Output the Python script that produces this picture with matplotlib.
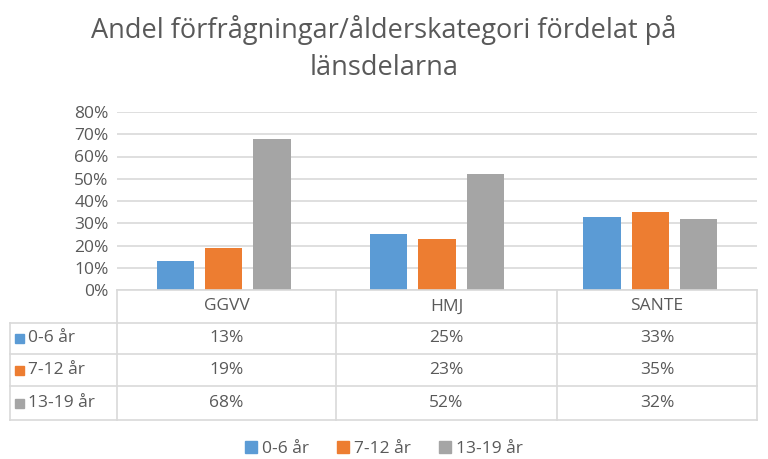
import matplotlib
matplotlib.use('agg')
import matplotlib.pyplot as plt
import numpy as np
from matplotlib.lines import Line2D
from matplotlib.patches import Rectangle

# data
categories = ['GGVV', 'HMJ', 'SANTE']
series = ['0-6 år', '7-12 år', '13-19 år']
v_0_6 = [0.13, 0.25, 0.33]
v_7_12 = [0.19, 0.23, 0.35]
v_13_19 = [0.68, 0.52, 0.32]
colors = ['#5B9BD5', '#ED7D31', '#A5A5A5']
yticks = [0, 0.1, 0.2, 0.3, 0.4, 0.5, 0.6, 0.7, 0.8]

plt.rcParams['font.family'] = ['Open Sans', 'DejaVu Sans']
txt = '#595959'
grid = '#D9D9D9'
fs = 12.5

W, H = 768, 459
fig = plt.figure(figsize=(W / 100, H / 100), dpi=100)


def fx(px):
    return px / W


def fy(py):
    return 1 - py / H


# plot area
x0, x1, ytop, ybot = 117, 757, 112, 290
ax = fig.add_axes([fx(x0), fy(ybot), fx(x1) - fx(x0), fy(ytop) - fy(ybot)])
x = np.arange(len(categories))
w = 0.175
step = 0.227
for i, vals in enumerate([v_0_6, v_7_12, v_13_19]):
    ax.bar(x + (i - 1) * step, vals, w, color=colors[i], zorder=3)
ax.set_xlim(-0.5, 2.5)
ax.set_ylim(0, 0.8)
ax.set_yticks(yticks)
ax.set_yticklabels(['%d%%' % round(t * 100) for t in yticks], fontsize=fs, color=txt)
ax.set_xticks([])
ax.yaxis.grid(True, color=grid, linewidth=1.2, zorder=0)
ax.tick_params(axis='y', length=0, pad=6)
for s in ax.spines.values():
    s.set_visible(False)

# title
fig.text(0.5, fy(30), 'Andel förfrågningar/ålderskategori fördelat på',
         ha='center', va='center', fontsize=19.5, color=txt)
fig.text(0.5, fy(68), 'länsdelarna', ha='center', va='center', fontsize=19.5, color=txt)

# data table
col_x = [117, 336, 557, 757]
row_y = [290, 323, 354, 386, 420]
lab_x = 10
lc = '#D9D9D9'


def hline(y, xa, xb):
    fig.add_artist(Line2D([fx(xa), fx(xb)], [fy(y), fy(y)], color=lc, lw=1.2))


def vline(xp, ya, yb):
    fig.add_artist(Line2D([fx(xp), fx(xp)], [fy(ya), fy(yb)], color=lc, lw=1.2))


hline(row_y[0], col_x[0], col_x[-1])
for y in row_y[1:]:
    hline(y, lab_x, col_x[-1])
vline(lab_x, row_y[1], row_y[-1])
for xp in col_x:
    vline(xp, row_y[0], row_y[-1])

for j, c in enumerate(categories):
    cx = (col_x[j] + col_x[j + 1]) / 2
    fig.text(fx(cx), fy((row_y[0] + row_y[1]) / 2), c, ha='center', va='center',
             fontsize=fs, color=txt)

for i, (name, vals) in enumerate(zip(series, [v_0_6, v_7_12, v_13_19])):
    cy = (row_y[i + 1] + row_y[i + 2]) / 2
    fig.add_artist(Rectangle((fx(15), fy(cy + 4.5)), fx(9), 9 / H, color=colors[i]))
    fig.text(fx(28), fy(cy), name, ha='left', va='center', fontsize=fs, color=txt)
    for j, v in enumerate(vals):
        cx = (col_x[j] + col_x[j + 1]) / 2
        fig.text(fx(cx), fy(cy), '%d%%' % round(v * 100), ha='center', va='center',
                 fontsize=fs, color=txt)

# legend
handles = [Rectangle((0, 0), 1, 1, color=c) for c in colors]
fig.legend(handles, series, loc='center', bbox_to_anchor=(0.5, fy(449)), ncol=3,
           frameon=False, fontsize=fs, handlelength=0.7, handleheight=0.7,
           handletextpad=0.3, columnspacing=1.6, labelcolor=txt)

fig.savefig('out.png', dpi=100)
